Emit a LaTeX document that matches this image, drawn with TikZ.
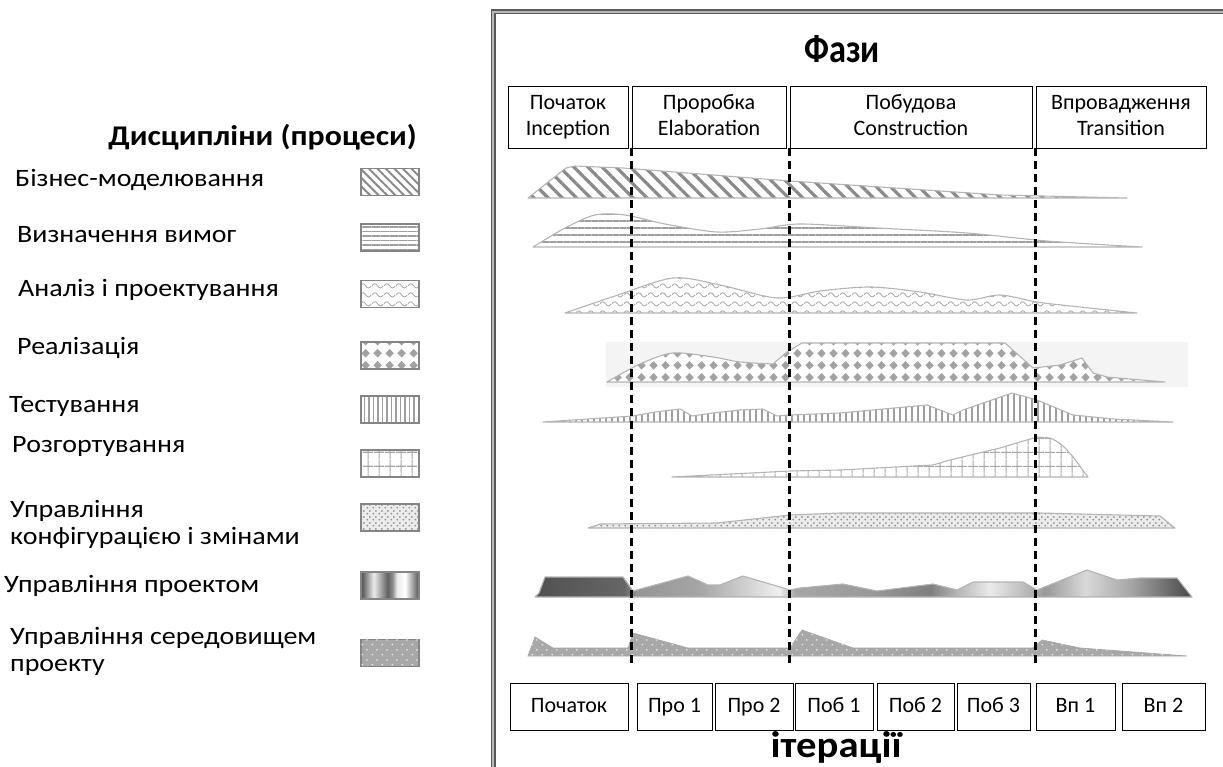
\documentclass[tikz,border=0pt]{standalone}
\usepackage{fontspec}
\setmainfont{Carlito}
\newfontfamily\legendfont{Carlito}[FakeStretch=1.12]
\newfontfamily\titlefont{Carlito}[FakeStretch=0.86]
\newfontfamily\iterfont{Carlito}[FakeStretch=1.1]
\usetikzlibrary{patterns.meta}

\definecolor{edgegray}{HTML}{B4B4B4}
\definecolor{swatchedge}{HTML}{858585}
\definecolor{hatchgray}{HTML}{8A8A8A}
\definecolor{stripegray}{HTML}{9E9E9E}
\definecolor{wavegray}{HTML}{A8A8A8}
\definecolor{diamondgray}{HTML}{A2A2A2}
\definecolor{gridgray}{HTML}{A6A6A6}
\definecolor{dotgray}{HTML}{8E8E8E}
\definecolor{dotback}{HTML}{ECECEC}
\definecolor{envgray}{HTML}{A8A8A8}
\definecolor{implback}{HTML}{F4F4F4}
\definecolor{framedark}{HTML}{5A5A5A}
\definecolor{framelight}{HTML}{B8B8B8}

% wavy lines for analysis & design
\pgfdeclarepattern{
  name=waves, type=uncolored,
  bottom left={\pgfpoint{0pt}{0pt}}, top right={\pgfpoint{12pt}{9pt}},
  tile size={\pgfpoint{12pt}{9pt}},
  code={
    \pgfsetlinewidth{0.9pt}
    \pgfpathmoveto{\pgfpoint{0pt}{4.5pt}}
    \pgfpathcurveto{\pgfpoint{2pt}{7.5pt}}{\pgfpoint{4pt}{7.5pt}}{\pgfpoint{6pt}{4.5pt}}
    \pgfpathcurveto{\pgfpoint{8pt}{1.5pt}}{\pgfpoint{10pt}{1.5pt}}{\pgfpoint{12pt}{4.5pt}}
    \pgfusepath{stroke}
  }
}
% diamonds for implementation
\pgfdeclarepattern{
  name=diamonds, type=uncolored,
  bottom left={\pgfpoint{0pt}{0pt}}, top right={\pgfpoint{12pt}{12pt}},
  tile size={\pgfpoint{12pt}{12pt}},
  code={
    \pgfpathmoveto{\pgfpoint{6pt}{1.5pt}}
    \pgfpathlineto{\pgfpoint{10.5pt}{6pt}}
    \pgfpathlineto{\pgfpoint{6pt}{10.5pt}}
    \pgfpathlineto{\pgfpoint{1.5pt}{6pt}}
    \pgfpathclose
    \pgfusepath{fill}
  }
}
% grid for deployment
\pgfdeclarepattern{
  name=deploygrid, type=uncolored,
  bottom left={\pgfpoint{0pt}{0pt}}, top right={\pgfpoint{11pt}{14pt}},
  tile size={\pgfpoint{11pt}{14pt}},
  code={
    \pgfsetlinewidth{1.2pt}
    \pgfpathmoveto{\pgfpoint{5.5pt}{0pt}}
    \pgfpathlineto{\pgfpoint{5.5pt}{14pt}}
    \pgfpathmoveto{\pgfpoint{0pt}{7pt}}
    \pgfpathlineto{\pgfpoint{11pt}{7pt}}
    \pgfusepath{stroke}
  }
}
% staggered dots for configuration management
\pgfdeclarepattern{
  name=cfgdots, type=uncolored,
  bottom left={\pgfpoint{0pt}{0pt}}, top right={\pgfpoint{6pt}{6pt}},
  tile size={\pgfpoint{6pt}{6pt}},
  code={
    \pgfpathcircle{\pgfpoint{1.5pt}{1.5pt}}{1.1pt}
    \pgfpathcircle{\pgfpoint{4.5pt}{4.5pt}}{1.1pt}
    \pgfusepath{fill}
  }
}
% sparse light dots for the environment
\pgfdeclarepattern{
  name=envdots, type=uncolored,
  bottom left={\pgfpoint{0pt}{0pt}}, top right={\pgfpoint{10pt}{10pt}},
  tile size={\pgfpoint{10pt}{10pt}},
  code={
    \pgfpathcircle{\pgfpoint{2.5pt}{2.5pt}}{0.9pt}
    \pgfpathcircle{\pgfpoint{7.5pt}{7.5pt}}{0.9pt}
    \pgfusepath{fill}
  }
}

% project management: bands of grey along the time axis
\pgfdeclarehorizontalshading{pmshade}{100bp}{%
  color(0bp)=(black!68); color(25bp)=(black!68); color(31.8bp)=(black!60);
  color(32.7bp)=(black!42); color(37.6bp)=(black!35); color(43.6bp)=(black!6);
  color(44.8bp)=(black!35); color(50.5bp)=(black!40); color(55.1bp)=(black!50);
  color(57bp)=(black!30); color(59.6bp)=(black!8); color(62.7bp)=(black!30);
  color(63.8bp)=(black!40); color(66.9bp)=(black!15); color(70.3bp)=(black!35);
  color(75bp)=(black!72); color(100bp)=(black!72)}
\pgfdeclarehorizontalshading{pmswatch}{100bp}{%
  color(0bp)=(black!70); color(25bp)=(black!70); color(36bp)=(black!8);
  color(48bp)=(black!62); color(52bp)=(black!45); color(56bp)=(black!8);
  color(63bp)=(white); color(75bp)=(black!68); color(100bp)=(black!68)}

\begin{document}
\begin{tikzpicture}[x=1pt, y=-1pt,
  phasebox/.style={draw, line width=0.9pt, inner sep=0pt, align=center,
    font=\fontsize{22}{26}\selectfont, minimum height=62pt},
  iterbox/.style={draw, line width=0.9pt, inner sep=0pt,
    font=\fontsize{22}{26}\selectfont, minimum height=47pt,
    execute at begin node=\strut},
  swatch/.style={draw=swatchedge, line width=1.6pt, minimum width=58pt,
    minimum height=27pt, inner sep=0pt},
  legendtext/.style={anchor=base west, inner sep=0pt,
    font=\legendfont\fontsize{25}{28}\selectfont},
  heading/.style={anchor=base, inner sep=0pt, font=\titlefont\bfseries\fontsize{40}{44}\selectfont},
  hump/.style={draw=edgegray, line width=1.1pt, line join=round},
  phaseline/.style={line width=2.4pt, dash pattern=on 8pt off 5pt},
]
\useasboundingbox (0,0) rectangle (1223,767);

% ---------- legend of disciplines ----------
\node[anchor=base east, inner sep=0pt, font=\legendfont\bfseries\fontsize{28.5}{32}\selectfont]
  (disc) at (417,146) {Дисципліни (процеси)};

\node[legendtext] (l1) at (15,187) {Бізнес-моделювання};
\node[legendtext] (l2) at (17,243) {Визначення вимог};
\node[legendtext] (l3) at (18,297) {Аналіз і проектування};
\node[legendtext] (l4) at (17,354) {Реалізація};
\node[legendtext] (l5) at (9,412) {Тестування};
\node[legendtext] (l6) at (12,452) {Розгортування};
\node[legendtext] (l7) at (10,517) {Управління};
\node[legendtext] (l7b) at (10,544) {конфігурацією і змінами};
\node[legendtext] (l8) at (4,592) {Управління проектом};
\node[legendtext] (l9) at (10,644) {Управління середовищем};
\node[legendtext] (l9b) at (10,671) {проекту};

\node[swatch, pattern={Lines[angle=-45,distance=6pt,line width=2pt]}, pattern color=hatchgray]
  (s1) at (390,182) {};
\node[swatch, pattern={Lines[angle=0,distance=4.5pt,line width=1.6pt]}, pattern color=stripegray]
  (s2) at (390,237.5) {};
\node[swatch, pattern=waves, pattern color=wavegray] (s3) at (390,294) {};
\node[swatch, pattern=diamonds, pattern color=diamondgray] (s4) at (390,355.5) {};
\node[swatch, pattern={Lines[angle=90,distance=4.5pt,line width=1.5pt]}, pattern color=stripegray]
  (s5) at (390,409.5) {};
\node[swatch, pattern=deploygrid, pattern color=gridgray] (s6) at (390,463.5) {};
\node[swatch, preaction={fill=dotback}, pattern=cfgdots, pattern color=dotgray] (s7) at (390,517.5) {};
\node[swatch, shade, shading=pmswatch] (s8) at (390,585.5) {};
\node[swatch, fill=envgray, postaction={pattern=envdots, pattern color=white!85!envgray}] (s9) at (390,653) {};

% ---------- frame of the life-cycle chart ----------
\draw[framedark, line width=1.5pt, double=framelight, double distance=2pt]
  (493,767) -- (493,12) -- (1223,12);

\node[heading] (phases) at (842,63) {Фази};

\node[phasebox, minimum width=120pt] (h1) at (568,117) {\strut Початок\\\strut Inception};
\node[phasebox, minimum width=154pt] (h2) at (709,117) {\strut Проробка\\\strut Elaboration};
\node[phasebox, minimum width=242pt] (h3) at (911,117) {\strut Побудова\\\strut Construction};
\node[phasebox, minimum width=170pt] (h4) at (1121,117) {\strut Впровадження\\\strut Transition};

% ---------- effort of each discipline over time ----------
% business modelling
\draw[hump, pattern={Lines[angle=-45,distance=10pt,line width=3.2pt]}, pattern color=hatchgray]
  (528,198) -- (566,168) -- (575,166) -- (623,168) -- (790,181) -- (1000,195) -- (1127,198) -- cycle;
% requirements
\draw[hump, pattern={Lines[angle=0,distance=7pt,line width=2.4pt]}, pattern color=stripegray]
  plot[smooth, tension=0.5] coordinates {(533,247) (565,228) (595,215) (625,215) (665,224)
    (717,232) (760,229) (800,224) (877,228) (967,233) (1047,241) (1142,247)} -- cycle;
% analysis & design
\draw[hump, pattern=waves, pattern color=wavegray]
  plot[smooth, tension=0.5] coordinates {(565,313) (615,296) (673,278) (720,285) (777,298)
    (820,291) (870,287) (920,292) (967,300) (1000,295) (1037,302) (1080,307) (1137,313)} -- cycle;
% implementation
\fill[implback] (606,342) rectangle (1188,387);
\draw[hump, preaction={fill=white}, pattern=diamonds, pattern color=diamondgray]
  plot[smooth, tension=0.5] coordinates {(607,382) (640,364) (673,353) (713,357) (740,362) (773,364)}
  -- (787,352) -- (802,343) -- (1005,343) -- (1033,368) -- (1060,365) -- (1082,358)
  -- (1093,373) -- (1107,377) -- (1165,382) -- cycle;
% test
\draw[hump, pattern={Lines[angle=90,distance=6pt,line width=1.6pt]}, pattern color=stripegray]
  (543,422) -- (633,416) -- (655,412) -- (680,409) -- (692,416) -- (713,413) -- (740,410)
  -- (763,409) -- (777,416) -- (790,415) -- (840,413) -- (927,405) -- (953,415) -- (963,410)
  -- (1012,393) -- (1037,400) -- (1073,415) -- (1113,419) -- (1173,422) -- cycle;
% deployment
\draw[hump, pattern=deploygrid, pattern color=gridgray]
  (672,477) -- (790,471) -- (840,470) -- (933,465) -- (950,460) -- (1000,448) -- (1037,437)
  -- (1050,438) .. controls (1068,445) and (1078,465) .. (1088,477) -- cycle;
% configuration & change management
\draw[hump, preaction={fill=dotback}, pattern=cfgdots, pattern color=dotgray]
  (588,528) -- (600,524) -- (717,523) -- (790,515) -- (840,513) -- (1040,513) -- (1160,516)
  -- (1175,528) -- cycle;
% project management
\draw[hump, shade, shading=pmshade]
  (535,597) -- (539,593) -- (545,577) -- (623,577) -- (633,591) -- (688,576) -- (708,585)
  -- (720,585) -- (743,576) -- (790,590) -- (800,588) -- (843,584) -- (877,591) -- (933,584)
  -- (957,590) -- (973,582) -- (1023,582) -- (1037,590) -- (1087,570) -- (1117,580)
  -- (1140,578) -- (1177,578) -- (1192,597) -- cycle;
% environment
\draw[draw=envgray, line width=0.8pt, fill=envgray, postaction={pattern=envdots, pattern color=white!85!envgray}]
  (528,656) -- (535,637) -- (553,648) -- (628,648) -- (633,633) -- (688,648) -- (790,648)
  -- (802,630) -- (853,648) -- (1033,648) -- (1042,640) -- (1080,648) -- (1187,656) -- cycle;

% ---------- phase boundaries ----------
\coordinate (dend) at (0,668);
\draw[phaseline] (h2.south west) -- (h2.south west |- dend);
\draw[phaseline] (h3.south west) -- (h3.south west |- dend);
\draw[phaseline] (h4.south west) -- (h4.south west |- dend);

% ---------- iterations ----------
\node[iterbox, minimum width=118pt] (i1) at (569,707) {Початок};
\node[iterbox, minimum width=75pt] (i2) at (674.5,707) {Про 1};
\node[iterbox, minimum width=78pt] (i3) at (754,707) {Про 2};
\node[iterbox, minimum width=78pt] (i4) at (834,707) {Поб 1};
\node[iterbox, minimum width=77pt] (i5) at (915.5,707) {Поб 2};
\node[iterbox, minimum width=73pt] (i6) at (993.5,707) {Поб 3};
\node[iterbox, minimum width=79pt] (i7) at (1075.5,707) {Вп 1};
\node[iterbox, minimum width=83pt] (i8) at (1163.5,707) {Вп 2};

\node[heading, font=\iterfont\bfseries\fontsize{37}{40}\selectfont] (iters) at (836,757) {ітерації};
\end{tikzpicture}
\end{document}
